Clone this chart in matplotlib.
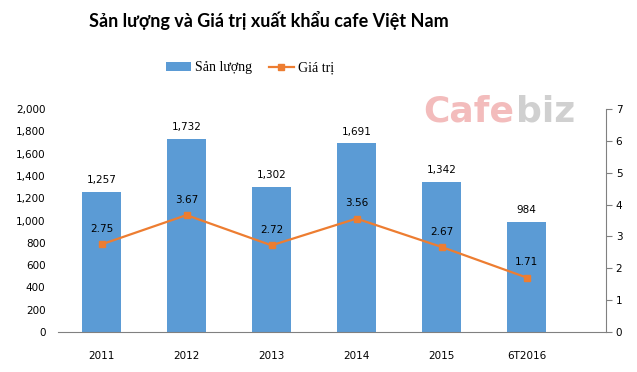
import matplotlib
matplotlib.use("Agg")
import matplotlib.pyplot as plt
from matplotlib.lines import Line2D
from matplotlib.patches import Patch
from matplotlib.ticker import FuncFormatter

years = ["2011", "2012", "2013", "2014", "2015", "6T2016"]
san_luong = [1257, 1732, 1302, 1691, 1342, 984]
gia_tri = [2.75, 3.67, 2.72, 3.56, 2.67, 1.71]

BAR_BLUE = "#5B9BD5"
LINE_ORANGE = "#ED7D31"
AXIS_GREY = "#808080"

fig = plt.figure(figsize=(6.37, 3.72), dpi=100, facecolor="white")
ax = fig.add_axes([58 / 637, 1 - 332 / 372, 548 / 637, 223 / 372])
ax2 = ax.twinx()

# watermark sits behind the chart
fig.text(423 / 637, 1 - 112 / 372, "Cafe", ha="left", va="center", fontsize=26,
         fontweight="bold", color="#F3BCBC", family="DejaVu Sans", zorder=0)
fig.text(516 / 637, 1 - 112 / 372, "biz", ha="left", va="center", fontsize=26,
         fontweight="bold", color="#D0D0D0", family="DejaVu Sans", zorder=0)

x = list(range(len(years)))
ax.bar(x, san_luong, width=0.46, color=BAR_BLUE, zorder=2)
for xi, v in zip(x, san_luong):
    ax.annotate(f"{v:,}", (xi, v), xytext=(0, 5), textcoords="offset points",
                ha="center", va="bottom", fontsize=7.5, family="DejaVu Sans")

ax2.plot(x, gia_tri, color=LINE_ORANGE, linewidth=1.6, marker="s", markersize=5,
         zorder=3)
for xi, v in zip(x, gia_tri):
    ax2.annotate(f"{v:.2f}", (xi, v), xytext=(0, 7.5), textcoords="offset points",
                 ha="center", va="bottom", fontsize=7.5, family="DejaVu Sans")

ax.set_xlim(-0.512, 5.935)
ax.set_ylim(0, 2000)
ax.set_yticks(range(0, 2001, 200))
ax.yaxis.set_major_formatter(FuncFormatter(lambda v, _: f"{int(v):,}"))
ax2.set_ylim(0, 7)
ax2.set_yticks(range(0, 8))

ax.set_xticks(x)
ax.set_xticklabels(years)

for a in (ax, ax2):
    for s in ("top", "left", "right"):
        a.spines[s].set_visible(False)
    a.spines["bottom"].set_color(AXIS_GREY)
    a.set_facecolor("none")
ax2.spines["right"].set_visible(True)
ax2.spines["right"].set_color(AXIS_GREY)
ax2.spines["bottom"].set_visible(False)

ax.tick_params(axis="x", length=0, pad=14, labelsize=7.5)
ax.tick_params(axis="y", length=0, pad=9, labelsize=7.5)
ax2.tick_params(axis="y", length=4, color=AXIS_GREY, pad=3, labelsize=7.5)

fig.text(269 / 637, 1 - 20 / 372, "Sản lượng và Giá trị xuất khẩu cafe Việt Nam",
         ha="center", va="center", fontsize=13, fontweight="bold", family="Lato")

handles = [
    Patch(facecolor=BAR_BLUE, label="Sản lượng"),
    Line2D([0], [0], color=LINE_ORANGE, linewidth=1.6, marker="s", markersize=4,
           label="Giá trị"),
]
fig.legend(handles=handles, loc="center", bbox_to_anchor=(250 / 637, 1 - 68 / 372),
           ncol=2, frameon=False, prop={"family": "Liberation Serif", "size": 10},
           handlelength=1.8, handleheight=0.6, columnspacing=1.2, handletextpad=0.3)

fig.savefig("out.png", dpi=100, facecolor="white")
